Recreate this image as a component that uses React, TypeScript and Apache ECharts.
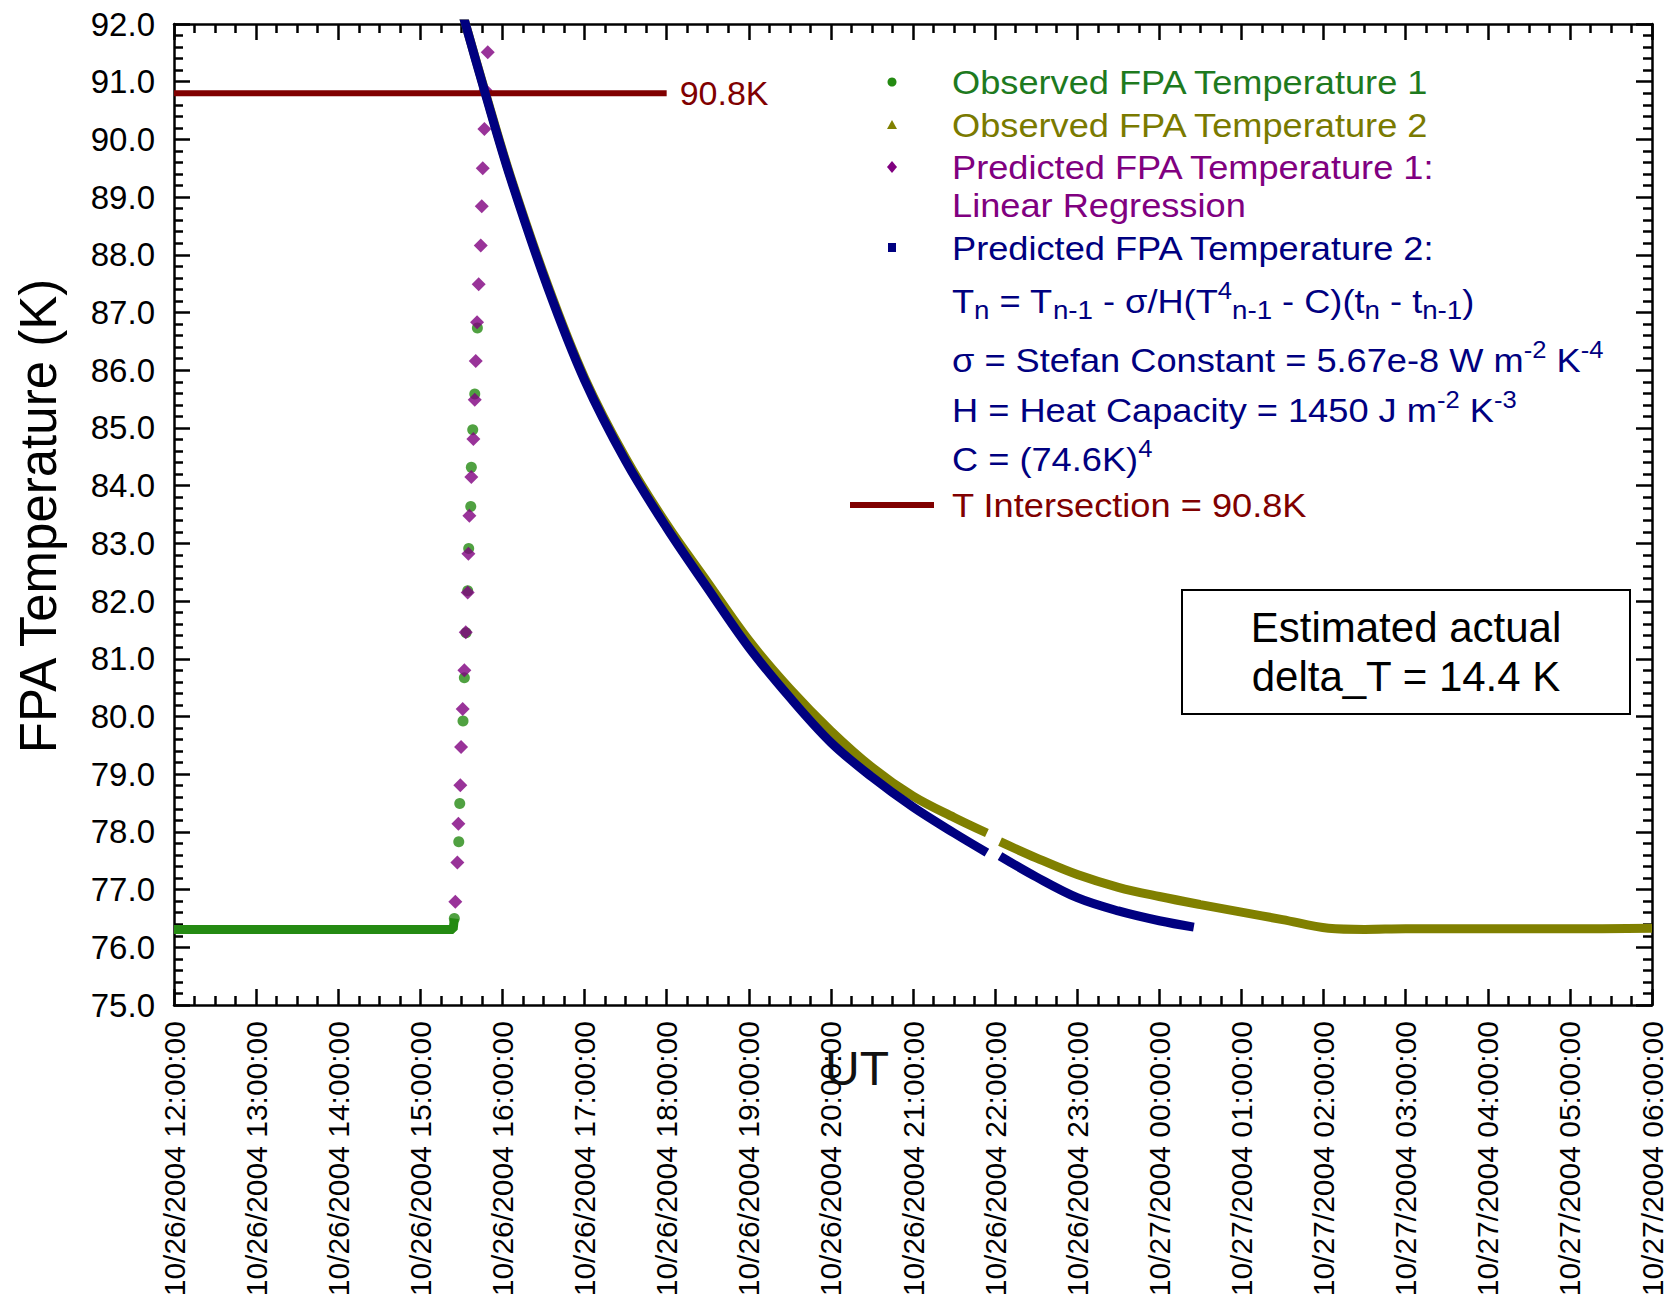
import React, { useEffect, useRef } from "react";
import * as echarts from "echarts";

const FONT = '"Liberation Sans", Arial, Helvetica, sans-serif';

// x values are hours since 10/26/2004 12:00:00 UT
const xTickLabels = [
  "10/26/2004 12:00:00",
  "10/26/2004 13:00:00",
  "10/26/2004 14:00:00",
  "10/26/2004 15:00:00",
  "10/26/2004 16:00:00",
  "10/26/2004 17:00:00",
  "10/26/2004 18:00:00",
  "10/26/2004 19:00:00",
  "10/26/2004 20:00:00",
  "10/26/2004 21:00:00",
  "10/26/2004 22:00:00",
  "10/26/2004 23:00:00",
  "10/27/2004 00:00:00",
  "10/27/2004 01:00:00",
  "10/27/2004 02:00:00",
  "10/27/2004 03:00:00",
  "10/27/2004 04:00:00",
  "10/27/2004 05:00:00",
  "10/27/2004 06:00:00",
];
const xMin = 0;
const xMax = 18;
const yMin = 75;
const yMax = 92;

// Observed FPA Temperature 1 (dense flat part, then sparse ramp points)
const obs1FlatHours = [0, 3.4, 3.414];
const obs1FlatTemp = [76.31, 76.31, 76.5];
const obs1Hours = [3.414, 3.468, 3.48, 3.52, 3.536, 3.557, 3.577, 3.589, 3.614, 3.621, 3.638, 3.663, 3.695];
const obs1Temp = [76.5, 77.83, 78.49, 79.92, 80.67, 81.45, 82.18, 82.91, 83.64, 84.32, 84.97, 85.59, 86.73];

// Observed FPA Temperature 2 (dense decay); null = data gap
const obs2Hours = [3.5, 3.79, 4.1, 4.55, 5.0, 5.5, 6.0, 6.5, 7.0, 7.5, 8.0, 8.5, 9.0, 9.5, 9.9, 9.98, 10.06, 10.5, 11.0, 11.5, 12.0, 12.5, 13.0, 13.5, 14.06, 14.5, 15.0, 16.0, 17.0, 18.0];
const obs2Temp = [92.25, 90.82, 89.35, 87.48, 85.87, 84.48, 83.33, 82.32, 81.32, 80.48, 79.75, 79.12, 78.62, 78.25, 77.98, null, 77.83, 77.55, 77.26, 77.04, 76.88, 76.74, 76.61, 76.48, 76.33, 76.31, 76.32, 76.32, 76.32, 76.33];

// Predicted FPA Temperature 1: Linear Regression
const pred1Hours = [3.426, 3.451, 3.463, 3.487, 3.496, 3.516, 3.536, 3.553, 3.577, 3.585, 3.597, 3.621, 3.646, 3.663, 3.675, 3.691, 3.711, 3.736, 3.748, 3.76, 3.78, 3.794, 3.821];
const pred1Temp = [76.79, 77.47, 78.14, 78.81, 79.47, 80.13, 80.8, 81.46, 82.15, 82.82, 83.48, 84.15, 84.81, 85.49, 86.16, 86.83, 87.49, 88.16, 88.84, 89.5, 90.18, 90.85, 91.51];

// Predicted FPA Temperature 2 (Stefan model); null = data gap
const pred2Hours = [3.5, 3.79, 4.1, 4.55, 5.0, 5.5, 6.0, 6.5, 7.0, 7.5, 8.0, 8.5, 9.0, 9.5, 9.9, 9.98, 10.06, 10.5, 11.0, 11.5, 12.0, 12.42];
const pred2Temp = [92.25, 90.8, 89.32, 87.44, 85.83, 84.43, 83.27, 82.22, 81.2, 80.33, 79.55, 78.95, 78.43, 77.98, 77.64, null, 77.58, 77.22, 76.86, 76.63, 76.46, 76.35];

// T Intersection = 90.8K
const intersectHours = [0, 6.0];
const intersectTemp = [90.8, 90.8];
const intersectLabel = "90.8K";

const GREEN = "#248A12";
const GREEN_TXT = "#1E7A1E";
const OLIVE = "#808000";
const OLIVE_TXT = "#7A7A00";
const PURPLE = "#800080";
const NAVY = "#000080";
const MAROON = "#800000";

function pairs(xs: number[], ys: (number | null)[]) {
  return xs.map((x, i) => [x, ys[i] === null ? "-" : ys[i]]);
}

const axisLine = { color: "#000", width: 2.5 };

export default function App() {
  const ref = useRef<HTMLDivElement>(null);

  useEffect(() => {
    document.body.style.margin = "0";
    const chart = echarts.init(ref.current!, undefined, { renderer: "svg" });

    const yBase = {
      type: "value",
      min: yMin,
      max: yMax,
      interval: 1,
      axisLine: { show: true, onZero: false, lineStyle: axisLine },
      axisTick: { show: true, inside: true, length: 16, lineStyle: axisLine },
      minorTick: { show: true, splitNumber: 5, length: 9, lineStyle: axisLine },
      splitLine: { show: false },
      minorSplitLine: { show: false },
    };
    const xBase = {
      type: "value",
      min: xMin,
      max: xMax,
      interval: 1,
      axisLine: { show: true, onZero: false, lineStyle: axisLine },
      axisTick: { show: true, inside: true, length: 16, lineStyle: axisLine },
      minorTick: { show: true, splitNumber: 4, length: 9, lineStyle: axisLine },
      splitLine: { show: false },
      minorSplitLine: { show: false },
    };

    const legendX = 952;
    const markerX = 892;
    const base = { fontFamily: FONT, fontSize: 34, lineHeight: 44 };
    const rich = (color: string) => ({
      m: { ...base, fill: color },
      sub: { fontFamily: FONT, fontSize: 26, lineHeight: 20, verticalAlign: "bottom", fill: color },
      sup: { fontFamily: FONT, fontSize: 24, lineHeight: 20, verticalAlign: "top", fill: color },
    });
    const legendText = (y: number, text: string, color: string) => ({
      type: "text",
      x: legendX,
      y,
      scaleX: 1.065,
      style: {
        text,
        rich: rich(color),
        fill: color,
        fontFamily: FONT,
        fontSize: 34,
        align: "left",
        verticalAlign: "middle",
      },
    });

    chart.setOption({
      animation: false,
      backgroundColor: "#fff",
      grid: { left: 174, right: 25, top: 24, bottom: 293, containLabel: false, outerBoundsMode: "none" },
      xAxis: [
        {
          ...xBase,
          position: "bottom",
          axisLabel: {
            show: true,
            rotate: 90,
            margin: 16,
            color: "#000",
            fontFamily: FONT,
            fontSize: 30,
            showMinLabel: true,
            showMaxLabel: true,
            formatter: (v: number) => xTickLabels[Math.round(v - xMin)] ?? "",
          },
        },
        { ...xBase, position: "top", axisLabel: { show: false } },
      ],
      yAxis: [
        {
          ...yBase,
          position: "left",
          axisLabel: {
            show: true,
            margin: 19,
            color: "#000",
            fontFamily: FONT,
            fontSize: 33,
            showMinLabel: true,
            showMaxLabel: true,
            formatter: (v: number) => v.toFixed(1),
          },
        },
        { ...yBase, position: "right", axisLabel: { show: false } },
      ],
      series: [
        {
          name: "Observed FPA Temperature 1",
          type: "line",
          data: pairs(obs1FlatHours, obs1FlatTemp),
          symbol: "none",
          lineStyle: { color: GREEN, width: 9 },
          clip: true,
          z: 2,
        },
        {
          name: "Observed FPA Temperature 1",
          type: "scatter",
          data: pairs(obs1Hours, obs1Temp),
          symbol: "circle",
          symbolSize: 11,
          itemStyle: { color: GREEN },
          clip: true,
          z: 3,
        },
        {
          name: "Observed FPA Temperature 2",
          type: "line",
          data: pairs(obs2Hours, obs2Temp),
          symbol: "none",
          smooth: 0.35,
          connectNulls: false,
          lineStyle: { color: OLIVE, width: 9 },
          clip: true,
          z: 4,
        },
        {
          name: "Predicted FPA Temperature 1: Linear Regression",
          type: "scatter",
          data: pairs(pred1Hours, pred1Temp),
          symbol: "diamond",
          symbolSize: 14,
          itemStyle: { color: PURPLE },
          clip: true,
          z: 5,
        },
        {
          name: "T Intersection",
          type: "line",
          data: pairs(intersectHours, intersectTemp),
          symbol: "none",
          lineStyle: { color: MAROON, width: 6 },
          endLabel: {
            show: true,
            formatter: () => intersectLabel,
            color: MAROON,
            fontFamily: FONT,
            fontSize: 34,
            distance: 13,
          },
          clip: true,
          z: 6,
        },
        {
          name: "Predicted FPA Temperature 2",
          type: "line",
          data: pairs(pred2Hours, pred2Temp),
          symbol: "none",
          smooth: 0.35,
          connectNulls: false,
          lineStyle: { color: NAVY, width: 9 },
          clip: true,
          z: 7,
        },
      ],
      graphic: [
        {
          type: "text",
          x: 38,
          y: 516,
          rotation: Math.PI / 2,
          style: { text: "FPA Temperature (K)", fill: "#000", fontFamily: FONT, fontSize: 51, align: "center", verticalAlign: "middle" },
        },
        {
          type: "text",
          x: 857,
          y: 1068,
          z: 100,
          style: { text: "UT", fill: "#111", fontFamily: FONT, fontSize: 48, align: "center", verticalAlign: "middle" },
        },
        // legend markers
        { type: "circle", shape: { cx: markerX, cy: 82, r: 4.5 }, style: { fill: GREEN } },
        { type: "polygon", shape: { points: [[markerX, 120], [markerX - 5, 129], [markerX + 5, 129]] }, style: { fill: OLIVE } },
        { type: "polygon", shape: { points: [[markerX, 161], [markerX + 5, 167], [markerX, 173], [markerX - 5, 167]] }, style: { fill: PURPLE } },
        { type: "rect", shape: { x: markerX - 4, y: 243, width: 8, height: 9 }, style: { fill: NAVY } },
        { type: "line", shape: { x1: 850, y1: 505, x2: 934, y2: 505 }, style: { stroke: MAROON, lineWidth: 6 } },
        // legend texts
        legendText(82, "{m|Observed FPA Temperature 1}", GREEN_TXT),
        legendText(125, "{m|Observed FPA Temperature 2}", OLIVE_TXT),
        legendText(167, "{m|Predicted FPA Temperature 1:}", PURPLE),
        legendText(205, "{m|Linear Regression}", PURPLE),
        legendText(248, "{m|Predicted FPA Temperature 2:}", NAVY),
        legendText(
          301,
          "{m|T}{sub|n}{m| = T}{sub|n-1}{m| - σ/H(T}{sup|4}{sub|n-1}{m| - C)(t}{sub|n}{m| - t}{sub|n-1}{m|)}",
          NAVY
        ),
        legendText(360, "{m|σ = Stefan Constant = 5.67e-8 W m}{sup|-2}{m| K}{sup|-4}", NAVY),
        legendText(410, "{m|H = Heat Capacity = 1450 J m}{sup|-2}{m| K}{sup|-3}", NAVY),
        legendText(459, "{m|C = (74.6K)}{sup|4}", NAVY),
        legendText(505, "{m|T Intersection = 90.8K}", MAROON),
        // annotation box
        {
          type: "rect",
          shape: { x: 1182, y: 590, width: 448, height: 124 },
          style: { fill: "#fff", stroke: "#000", lineWidth: 2 },
        },
        {
          type: "text",
          x: 1406,
          y: 652,
          style: {
            text: "Estimated actual\ndelta_T = 14.4 K",
            fill: "#000",
            fontFamily: FONT,
            fontSize: 42,
            lineHeight: 49,
            align: "center",
            verticalAlign: "middle",
          },
        },
      ],
    });

    return () => chart.dispose();
  }, []);

  return <div ref={ref} style={{ width: 1677, height: 1298 }} />;
}
